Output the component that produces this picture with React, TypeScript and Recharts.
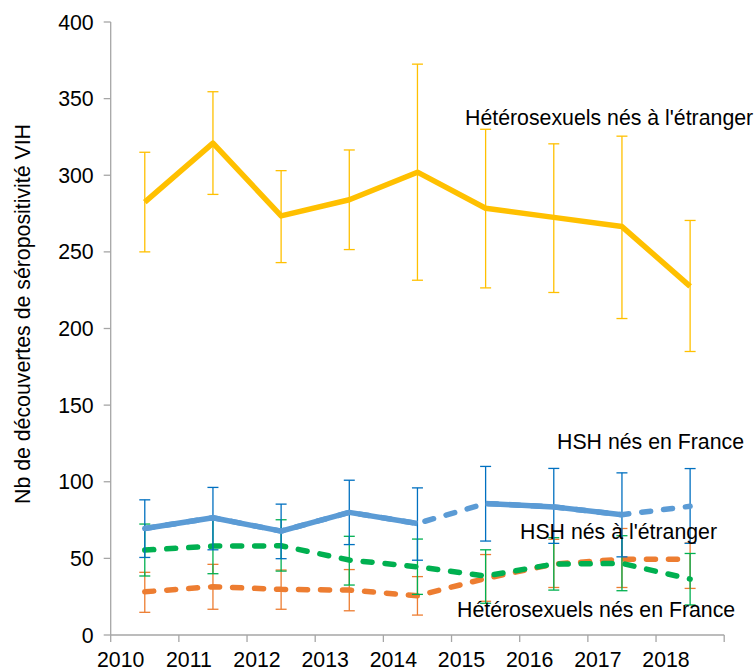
import * as React from 'react';
import { LineChart, Line, XAxis, YAxis, ErrorBar } from 'recharts';

// years, points drawn in the middle of each year band
const YEARS = [2010, 2011, 2012, 2013, 2014, 2015, 2016, 2017, 2018];
const X_TICKS = [2010, 2011, 2012, 2013, 2014, 2015, 2016, 2017, 2018, 2019];
const Y_TICKS = [0, 50, 100, 150, 200, 250, 300, 350, 400];

// Hétérosexuels nés à l'étranger
const HET_ETR = [282.5, 321, 273.5, 284, 302, 278.5, 272.5, 266.5, 227.5];
const HET_ETR_LOW = [250, 287.5, 243, 251.5, 231.5, 226.5, 223.5, 206.5, 185];
const HET_ETR_HIGH = [315, 354.5, 303, 316.5, 372.5, 330, 320.5, 325.5, 270.5];

// HSH nés en France
const HSH_FR = [69.5, 76.5, 67.8, 80, 72.8, 85.8, 83.6, 78.5, 84];
const HSH_FR_LOW = [50.6, 55.6, 49.8, 59, 48.8, 61.3, 59.8, 51, 59.8];
const HSH_FR_HIGH = [88.2, 96.3, 85.4, 101, 96, 110, 108.7, 105.8, 108.6];
// index ranges drawn as solid line (the rest is dashed)
const HSH_FR_SOLID = [[0, 4], [5, 7]];

// HSH nés à l'étranger
const HSH_ETR = [55.4, 58, 58.2, 48.9, 44.5, 38.5, 46.3, 46.7, 36.5];
const HSH_ETR_LOW = [38.5, 40, 41.7, 32.6, 26.5, 20.7, 29.3, 28.9, 19.6];
const HSH_ETR_HIGH = [72.4, 76, 75.2, 64.4, 62.6, 55.6, 63.5, 64.8, 53.2];

// Hétérosexuels nés en France
const HET_FR = [28.2, 31.5, 29.8, 29.3, 25.6, 36.9, 46.3, 49.5, 49.5];
const HET_FR_LOW = [14.8, 16.8, 16.8, 15.8, 13, 22, 31, 31, 30.4];
const HET_FR_HIGH = [40.9, 46.1, 42.4, 42.7, 38.1, 52.5, 62.4, 69.5, 60];

const FONT = '"Liberation Sans", Arial, sans-serif';
const FS = 21.3;
const AXIS = '#A6A6A6';

const err = (v: number[], lo: number[], hi: number[], i: number) => [v[i] - lo[i], hi[i] - v[i]];

const data = YEARS.map((yr, i) => ({
  x: yr + 0.5,
  hetEtr: HET_ETR[i],
  hetEtrErr: err(HET_ETR, HET_ETR_LOW, HET_ETR_HIGH, i),
  hshFr: HSH_FR[i],
  hshFrErr: err(HSH_FR, HSH_FR_LOW, HSH_FR_HIGH, i),
  hshFrA: i >= HSH_FR_SOLID[0][0] && i <= HSH_FR_SOLID[0][1] ? HSH_FR[i] : null,
  hshFrB: i >= HSH_FR_SOLID[1][0] && i <= HSH_FR_SOLID[1][1] ? HSH_FR[i] : null,
  hshEtr: HSH_ETR[i],
  hshEtrErr: err(HSH_ETR, HSH_ETR_LOW, HSH_ETR_HIGH, i),
  hetFr: HET_FR[i],
  hetFrErr: err(HET_FR, HET_FR_LOW, HET_FR_HIGH, i),
}));

const XTick = (props: any) => {
  const { x, y, payload } = props;
  if (payload.value === 2019) return <g />;
  return (
    <text x={x + 10} y={y} dy="0.71em" textAnchor="middle" fontSize={FS} fontFamily={FONT} fill="#000">
      {payload.value}
    </text>
  );
};

const DASH = '9 13';

export default function App() {
  return (
    <div style={{ position: 'absolute', left: 0, top: 0, width: 755, height: 671, background: '#fff' }}>
      <LineChart width={755} height={671} data={data} margin={{ top: 22, right: 30.8, left: 50.7, bottom: 6 }}>
        <XAxis
          dataKey="x"
          type="number"
          domain={[2010, 2019]}
          ticks={X_TICKS}
          interval={0}
          height={30}
          tickSize={7}
          tickMargin={10}
          axisLine={{ stroke: AXIS, strokeWidth: 1.3 }}
          tickLine={{ stroke: AXIS, strokeWidth: 1.3 }}
          tick={<XTick />}
        />
        <YAxis
          type="number"
          domain={[0, 400]}
          ticks={Y_TICKS}
          interval={0}
          width={60}
          tickSize={7}
          tickMargin={10}
          axisLine={{ stroke: AXIS, strokeWidth: 1.3 }}
          tickLine={{ stroke: AXIS, strokeWidth: 1.3 }}
          tick={{ fontSize: FS, fontFamily: FONT, fill: '#000' }}
        />
        <Line dataKey="hetFr" stroke="#ED7D31" strokeWidth={5.5} strokeDasharray={DASH} strokeLinecap="round"
          strokeLinejoin="round" dot={false} activeDot={false} isAnimationActive={false}>
          <ErrorBar dataKey="hetFrErr" stroke="#ED7D31" strokeWidth={1.3} width={5.5} isAnimationActive={false} />
        </Line>
        <Line dataKey="hshEtr" stroke="#00B050" strokeWidth={5.5} strokeDasharray={DASH} strokeLinecap="round"
          strokeLinejoin="round" dot={false} activeDot={false} isAnimationActive={false}>
          <ErrorBar dataKey="hshEtrErr" stroke="#00B050" strokeWidth={1.3} width={5.5} isAnimationActive={false} />
        </Line>
        <Line dataKey="hshFr" stroke="#5B9BD5" strokeWidth={5.5} strokeDasharray={DASH} strokeLinecap="round"
          strokeLinejoin="round" dot={false} activeDot={false} isAnimationActive={false}>
          <ErrorBar dataKey="hshFrErr" stroke="#0070C0" strokeWidth={1.3} width={5.5} isAnimationActive={false} />
        </Line>
        <Line dataKey="hshFrA" stroke="#5B9BD5" strokeWidth={5.5} strokeLinejoin="round" connectNulls={false}
          dot={false} activeDot={false} isAnimationActive={false} />
        <Line dataKey="hshFrB" stroke="#5B9BD5" strokeWidth={5.5} strokeLinejoin="round" connectNulls={false}
          dot={false} activeDot={false} isAnimationActive={false} />
        <Line dataKey="hetEtr" stroke="#FFC000" strokeWidth={5.5} strokeLinejoin="round" dot={false}
          activeDot={false} isAnimationActive={false}>
          <ErrorBar dataKey="hetEtrErr" stroke="#FFC000" strokeWidth={1.3} width={5.5} isAnimationActive={false} />
        </Line>
      </LineChart>
      <svg width={755} height={671} style={{ position: 'absolute', left: 0, top: 0, pointerEvents: 'none' }}
        fontFamily={FONT} fontSize={FS} fill="#000">
        <text x={30} y={314} textAnchor="middle" transform="rotate(-90, 30, 314)">
          Nb de découvertes de séropositivité VIH
        </text>
        <text x={465} y={125}>Hétérosexuels nés à l'étranger</text>
        <text x={557} y={449}>HSH nés en France</text>
        <text x={520} y={539}>HSH nés à l'étranger</text>
        <text x={457} y={617}>Hétérosexuels nés en France</text>
      </svg>
    </div>
  );
}
